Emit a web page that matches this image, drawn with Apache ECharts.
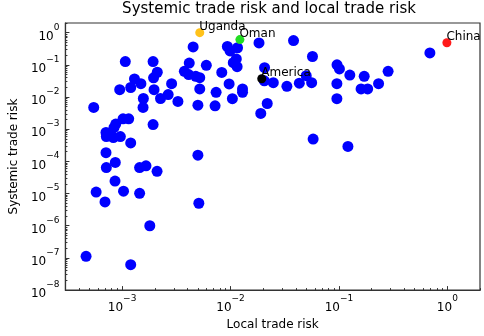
<!DOCTYPE html>
<html>
<head>
<meta charset="utf-8">
<script src="https://cdn.jsdelivr.net/npm/echarts@6/dist/echarts.min.js"></script>
<style>html,body{margin:0;padding:0;background:#fff}#main{width:484px;height:336px}</style>
</head>
<body>
<div id="main"></div>
<script>
// local trade risk (x) / systemic trade risk (y) for every country
var localRisk = [
  5.47e-4, 9.5e-4, 1.07e-3, 1.2e-3, 1.3e-3, 1.49e-3, 1.93e-3, 1.95e-3, 1.97e-3, 2.11e-3,
  2.26e-3, 2.66e-3, 2.86e-3, 3.27e-3, 3.75e-3, 4.11e-3, 4.16e-3, 4.52e-3, 4.78e-3, 5.0e-3,
  5.2e-3, 5.2e-3, 5.98e-3, 7.2e-3, 7.36e-3, 8.3e-3, 9.35e-3, 9.7e-3, 9.9e-3, 1.04e-2,
  1.06e-2, 1.13e-2, 1.16e-2, 1.15e-2, 1.29e-2, 1.29e-2, 1.83e-2, 1.9e-2, 2.06e-2, 2.05e-2,
  2.18e-2, 2.48e-2, 3.31e-2, 3.81e-2, 4.31e-2, 4.99e-2, 5.6e-2, 5.7e-2, 9.6e-2, 0.101,
  9.57e-2, 9.57e-2, 0.126, 0.171, 0.16, 0.184, 0.232, 0.284, 0.69, 1.57e-3,
  1.56e-3, 1.02e-3, 1.15e-3, 1.93e-3, 8.73e-4, 8.4e-4, 7.1e-4, 7.15e-4, 8.3e-4, 9.63e-4,
  7.9e-4, 1.2e-3, 7.1e-4, 5.0e-3, 8.65e-4, 7.15e-4, 1.45e-3, 1.66e-3, 2.1e-3, 8.6e-4,
  5.76e-4, 1.03e-3, 1.45e-3, 6.95e-4, 5.1e-3, 1.8e-3, 4.65e-4, 1.2e-3, 5.78e-2, 0.121
];
var systemicRisk = [
  4.75e-3, 1.69e-2, 0.127, 1.98e-2, 3.65e-2, 2.6e-2, 0.127, 3.97e-2, 1.69e-2, 5.9e-2,
  9.0e-3, 1.19e-2, 2.6e-2, 7.3e-3, 6.3e-2, 5.0e-2, 0.114, 0.36, 4.4e-2, 5.6e-3,
  1.78e-2, 4.0e-2, 9.7e-2, 5.35e-3, 1.4e-2, 5.8e-2, 0.372, 2.56e-2, 0.272, 8.9e-3,
  0.117, 0.153, 0.34, 8.8e-2, 1.78e-2, 1.4e-2, 0.48, 3.1e-3, 8.2e-2, 3.2e-2,
  6.3e-3, 2.8e-2, 2.15e-2, 0.57, 2.7e-2, 4.6e-2, 2.8e-2, 0.182, 0.1, 7.5e-2,
  2.6e-2, 8.9e-3, 4.8e-2, 4.4e-2, 1.78e-2, 1.78e-2, 2.6e-2, 6.3e-2, 0.234, 9.0e-3,
  4.75e-3, 2.1e-3, 2.1e-3, 1.4e-3, 1.45e-3, 1.12e-3, 7.9e-4, 5.9e-4, 5.5e-4, 5.9e-4,
  6.55e-4, 3.75e-4, 1.86e-4, 1.56e-4, 9.3e-5, 6.45e-5, 6.45e-5, 7.3e-5, 4.9e-5, 2.44e-5,
  1.11e-5, 1.19e-5, 1.02e-5, 5.5e-6, 5.0e-6, 1.0e-6, 1.12e-7, 6.15e-8, 4.95e-4, 2.92e-4
];

// highlighted countries
var namedCountries = ['Uganda', 'Oman', 'America', 'China'];
var namedLocal = [5.2e-3, 1.22e-2, 1.94e-2, 0.99];
var namedSystemic = [1.0, 0.61, 0.037, 0.485];

// tick exponents (labels 10^e)
var xTickExp = [-3, -2, -1, 0];
var yTickExp = [-8, -7, -6, -5, -4, -3, -2, -1, 0];

var namedColors = { Uganda: '#ffc21a', Oman: '#22dd22', America: '#000000', China: '#ff1a1a' };

function pow10(e) { return Math.pow(10, e); }
function minorTicks(lo, hi) {
  var out = [];
  for (var e = lo; e <= hi; e++) {
    for (var m = 2; m <= 9; m++) out.push(m * Math.pow(10, e));
  }
  return out;
}
function sciLabel(v) {
  var e = Math.round(Math.log10(v));
  return '{b|10}{s|' + (e < 0 ? '\u2212' + (-e) : e) + '}';
}
var labelRich = {
  b: { fontSize: 12, fontFamily: 'DejaVu Sans', color: '#000', lineHeight: 20, verticalAlign: 'bottom' },
  s: { fontSize: 9, fontFamily: 'DejaVu Sans', color: '#000', lineHeight: 10, verticalAlign: 'top' }
};

var XMIN = 3e-4, XMAX = 2, YMIN = 1e-8, YMAX = 2;

var myChart = echarts.init(document.getElementById('main'));
var blueData = localRisk.map(function (x, i) { return [x, systemicRisk[i]]; });

var series = [{
  type: 'scatter',
  data: blueData,
  symbolSize: 11,
  itemStyle: { color: '#0000ff', opacity: 1 },
  z: 2
}];
namedCountries.forEach(function (name, i) {
  series.push({
    type: 'scatter',
    name: name,
    data: [[namedLocal[i], namedSystemic[i]]],
    symbolSize: 9,
    itemStyle: { color: namedColors[name], opacity: 1 },
    label: {
      show: true,
      formatter: name,
      position: [4, 5],
      align: 'left',
      verticalAlign: 'bottom',
      fontSize: 12,
      fontFamily: 'DejaVu Sans',
      color: '#000'
    },
    z: 3
  });
});

var option = {
  animation: false,
  backgroundColor: '#fff',
  title: {
    text: 'Systemic trade risk and local trade risk',
    left: 269,
    textAlign: 'center',
    top: 2,
    padding: 0,
    textStyle: { fontSize: 15, fontWeight: 'normal', fontFamily: 'DejaVu Sans', color: '#000' }
  },
  grid: {
    left: 57, right: 4, top: 23, bottom: 38,
    show: true, borderColor: '#333', borderWidth: 1.2
  },
  xAxis: [{
    type: 'log', logBase: 10, min: XMIN, max: XMAX,
    name: 'Local trade risk', nameLocation: 'middle', nameGap: 24,
    nameTextStyle: { fontSize: 12, fontFamily: 'DejaVu Sans', color: '#000' },
    axisLine: { lineStyle: { color: '#333', width: 1.2 } },
    axisTick: { inside: true, length: 4, customValues: xTickExp.map(pow10), lineStyle: { color: '#333' } },
    axisLabel: { customValues: xTickExp.map(pow10), formatter: sciLabel, rich: labelRich, margin: 4 },
    splitLine: { show: false }
  }, {
    type: 'log', logBase: 10, min: XMIN, max: XMAX, position: 'bottom',
    axisLine: { show: false },
    axisTick: { inside: true, length: 2, customValues: minorTicks(-4, 0), lineStyle: { color: '#333' } },
    axisLabel: { show: false },
    splitLine: { show: false }
  }],
  yAxis: [{
    type: 'log', logBase: 10, min: YMIN, max: YMAX,
    name: 'Systemic trade risk', nameLocation: 'middle', nameGap: 43,
    nameTextStyle: { fontSize: 12, fontFamily: 'DejaVu Sans', color: '#000' },
    axisLine: { lineStyle: { color: '#333', width: 1.2 } },
    axisTick: { inside: true, length: 4, customValues: yTickExp.map(pow10), lineStyle: { color: '#333' } },
    axisLabel: { customValues: yTickExp.map(pow10), formatter: sciLabel, rich: labelRich, margin: 6 },
    splitLine: { show: false }
  }, {
    type: 'log', logBase: 10, min: YMIN, max: YMAX, position: 'left',
    axisLine: { show: false },
    axisTick: { inside: true, length: 2, customValues: minorTicks(-8, 0), lineStyle: { color: '#333' } },
    axisLabel: { show: false },
    splitLine: { show: false }
  }],
  series: series
};
myChart.setOption(option);
</script>
</body>
</html>
